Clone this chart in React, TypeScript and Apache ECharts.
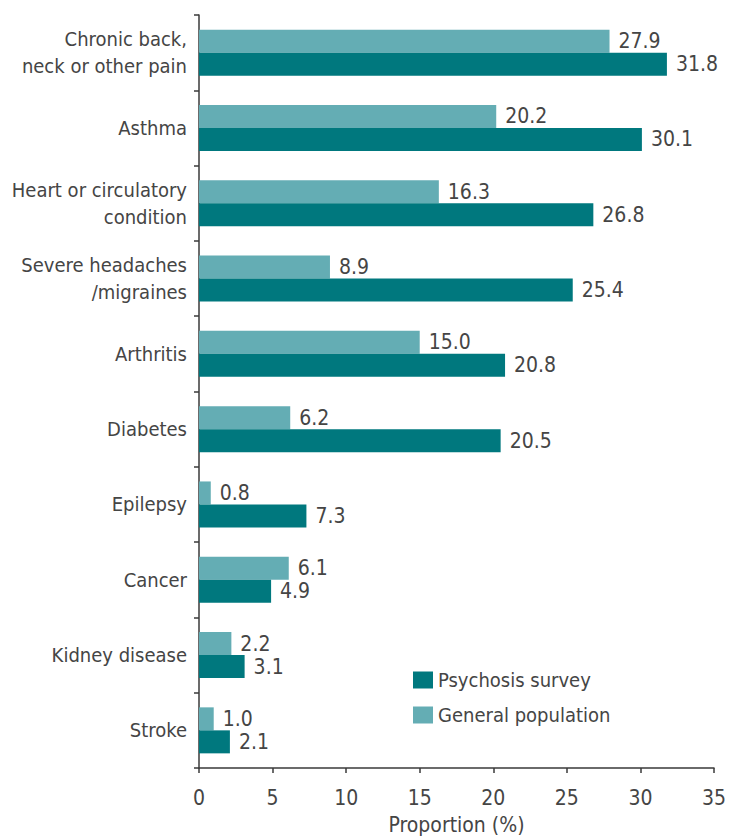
import React, { useEffect, useRef } from "react";
import * as echarts from "echarts";

const categories = [
  "Chronic back,\nneck or other pain",
  "Asthma",
  "Heart or circulatory\ncondition",
  "Severe headaches\n/migraines",
  "Arthritis",
  "Diabetes",
  "Epilepsy",
  "Cancer",
  "Kidney disease",
  "Stroke",
];
const generalPopulation = [27.9, 20.2, 16.3, 8.9, 15.0, 6.2, 0.8, 6.1, 2.2, 1.0];
const psychosisSurvey = [31.8, 30.1, 26.8, 25.4, 20.8, 20.5, 7.3, 4.9, 3.1, 2.1];
const xTicks = { min: 0, max: 35, interval: 5 };

const FONT = "'DejaVu Sans Condensed', 'Liberation Sans Narrow', sans-serif";
const TEXT = "#454545";
const DARK = "#00787e";
const LIGHT = "#64adb4";

export default function App() {
  const ref = useRef<HTMLDivElement>(null);
  useEffect(() => {
    if (!ref.current) return;
    const chart = echarts.init(ref.current, undefined, { renderer: "svg" });
    const label = {
      show: true,
      position: "right",
      distance: 9,
      fontSize: 21,
      fontFamily: FONT,
      color: TEXT,
      formatter: (p: any) => Number(p.value).toFixed(1),
    };
    chart.setOption({
      animation: false,
      backgroundColor: "#ffffff",
      textStyle: { fontFamily: FONT },
      grid: {
        left: 199,
        right: 15,
        top: 15,
        bottom: 72,
        containLabel: false,
        outerBoundsMode: "none",
      },
      legend: {
        orient: "vertical",
        left: 408,
        top: 665,
        icon: "rect",
        itemWidth: 20,
        itemHeight: 17,
        itemGap: 15,
        itemTextGap: 5,
        data: ["Psychosis survey", "General population"],
        textStyle: { fontSize: 20, lineHeight: 20, color: TEXT, fontFamily: FONT },
      },
      xAxis: {
        type: "value",
        min: xTicks.min,
        max: xTicks.max,
        interval: xTicks.interval,
        name: "Proportion (%)",
        nameLocation: "middle",
        nameGap: 46,
        nameTextStyle: { fontSize: 21, color: TEXT, fontFamily: FONT },
        axisLine: { show: true, lineStyle: { color: "#3a3a3a", width: 1.5 } },
        axisTick: { show: true, length: 5, lineStyle: { color: "#3a3a3a", width: 1.5 } },
        axisLabel: { fontSize: 21, color: TEXT, margin: 19, fontFamily: FONT },
        splitLine: { show: false },
      },
      yAxis: {
        type: "category",
        data: categories,
        inverse: true,
        axisLine: { show: true, lineStyle: { color: "#3a3a3a", width: 1.5 } },
        axisTick: { show: true, length: 5, lineStyle: { color: "#3a3a3a", width: 1.5 } },
        axisLabel: {
          fontSize: 20,
          lineHeight: 27,
          color: TEXT,
          margin: 12,
          align: "right",
          fontFamily: FONT,
        },
      },
      series: [
        {
          name: "General population",
          type: "bar",
          data: generalPopulation,
          barWidth: 23,
          barGap: "0%",
          itemStyle: { color: LIGHT },
          label,
        },
        {
          name: "Psychosis survey",
          type: "bar",
          data: psychosisSurvey,
          barWidth: 23,
          barGap: "0%",
          itemStyle: { color: DARK },
          label,
        },
      ],
    });
    return () => chart.dispose();
  }, []);
  return (
    <div
      ref={ref}
      style={{ position: "fixed", left: 0, top: 0, width: 729, height: 840 }}
    />
  );
}
